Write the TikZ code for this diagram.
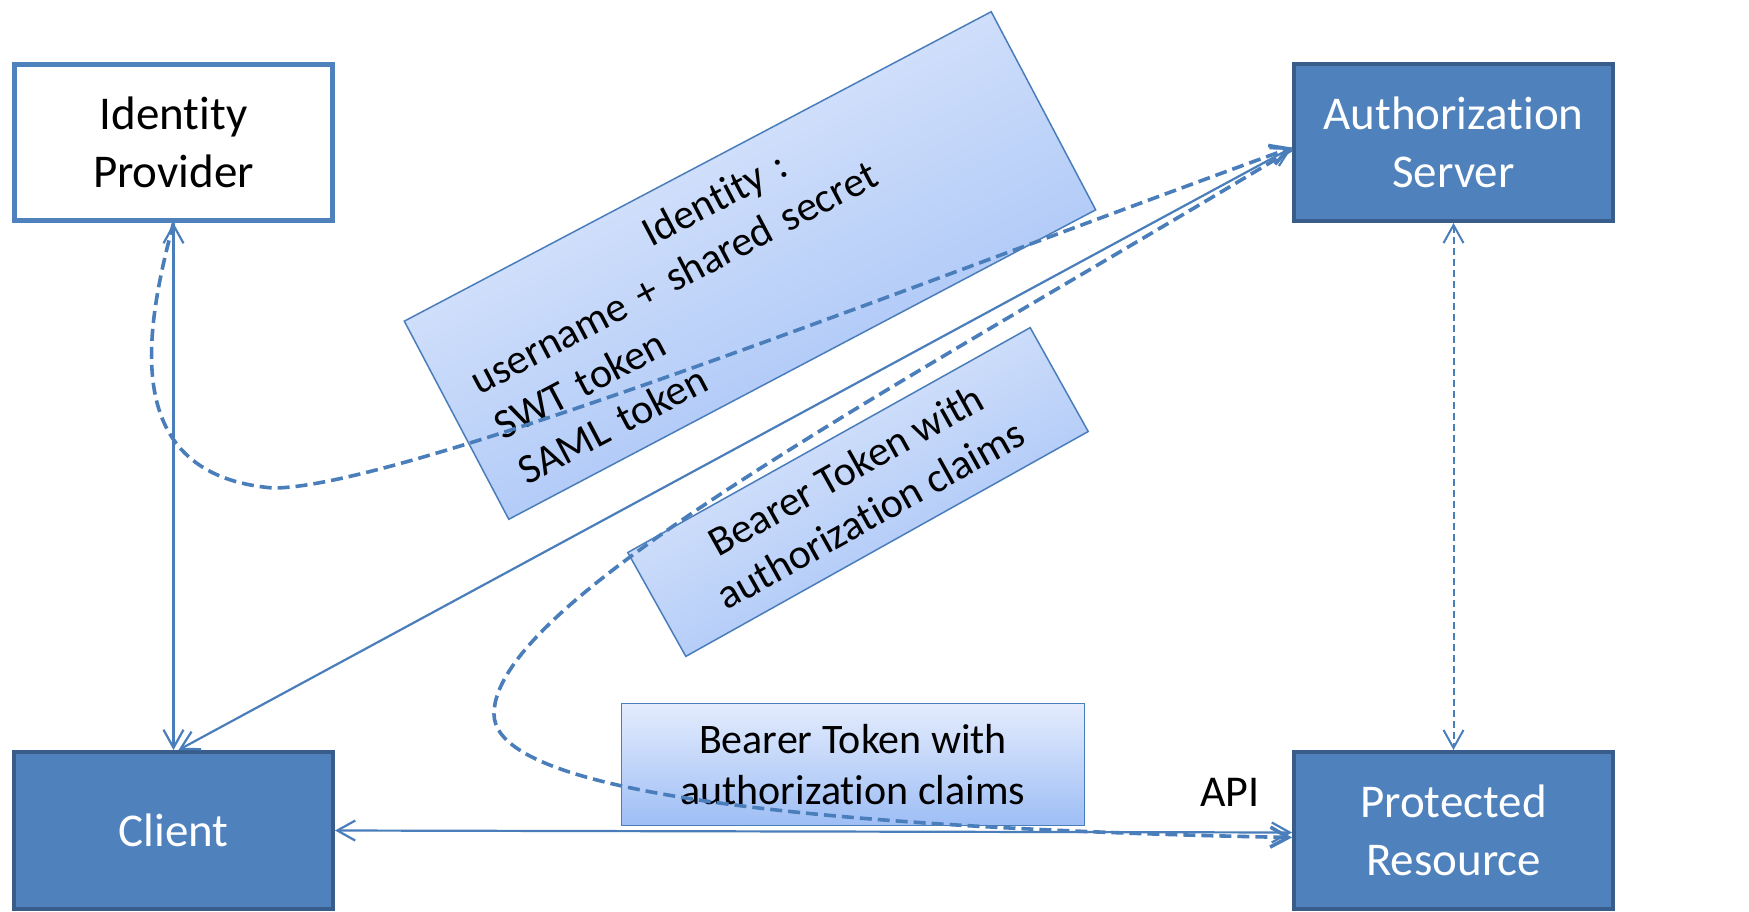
\documentclass[tikz,border=0pt]{standalone}
\usepackage{fontspec}
\setmainfont{Carlito}[RawFeature={-liga;-clig;-calt;-dlig}]
\usetikzlibrary{arrows.meta}
\definecolor{ofblue}{HTML}{4F81BD}
\definecolor{ofdark}{HTML}{385D8A}
\definecolor{lnblue}{HTML}{4A7EBB}
\definecolor{gtop}{RGB}{228,236,253}
\definecolor{gbot}{RGB}{158,190,245}
\tikzset{
  mainbox/.style={draw=ofdark, line width=4pt, fill=ofblue, text=white,
    minimum width=319pt, minimum height=157pt, align=center, inner sep=0pt,
    font=\fontsize{47}{58}\selectfont},
  idpbox/.style={mainbox, draw=ofblue, fill=white, text=black, line width=5pt,
    minimum width=318pt, minimum height=156pt},
  lbox/.style={draw=lnblue, line width=1.5pt, top color=gtop, bottom color=gbot,
    inner sep=0pt, font=\fontsize{42}{51}\selectfont},
  >={Straight Barb[length=18pt,width=20pt]},
  solidconn/.style={draw=lnblue, line width=2.2pt},
  dashconn/.style={draw=lnblue, line width=3.6pt, dash pattern=on 12pt off 6pt},
  thinconn/.style={draw=lnblue, line width=2pt, dash pattern=on 7pt off 4pt}
}
\begin{document}
\begin{tikzpicture}[x=1pt,y=-1pt]
\useasboundingbox (0,0) rectangle (1749,911);
\fill[white] (0,0) rectangle (1749,911);

% main boxes
\node[idpbox]  (idp)  at (173.5,142.5) {Identity\\Provider};
\node[mainbox] (auth) at (1453.5,142.5) {Authorization\\Server};
\node[mainbox] (client) at (173.5,830.5) {Client};
\node[mainbox] (pr) at (1453.5,830.5) {Protected\\Resource};

% label boxes
\node[lbox, shading angle=27.8, rotate=27.8, minimum width=663.5pt, minimum height=224pt,
      text width=599pt, align=left] (idlabel) at (750,265.5)
  {\makebox[599pt]{Identity :}\\username + shared secret\\SWT token\\SAML token};
\node[lbox, shading angle=29.2, rotate=29.2, minimum width=461pt, minimum height=119pt, align=center]
  (bearer1) at (858,492) {Bearer Token with\\authorization claims};
\node[lbox, minimum width=463pt, minimum height=122pt, align=center]
  (bearer2) at (853,764.5) {Bearer Token with\\authorization claims};

\node[font=\fontsize{44}{51}\selectfont, inner sep=0pt] (api) at (1230,792) {API};

% connectors
\draw[solidconn, <->] (idp.south) -- (client.north);
\draw[solidconn, <->] ([xshift=5pt]client.north) -- ([yshift=-5pt]auth.west);
\draw[solidconn, <->] (client.east) -- ([yshift=-2pt]pr.west);
\draw[thinconn, <->] (auth.south) -- (pr.north);

\draw[dashconn, ->] (idp.south) .. controls (145,330) and (118,475) .. (273,488)
   .. controls (400,488) and (900,290) .. ([yshift=-5pt]auth.west);
\draw[dashconn, ->] ([yshift=-7pt]auth.west) .. controls (893,390) and (494,600) .. (494,714)
   .. controls (494,770) and (650,825) .. ([yshift=-7pt]pr.west);
\end{tikzpicture}
\end{document}
